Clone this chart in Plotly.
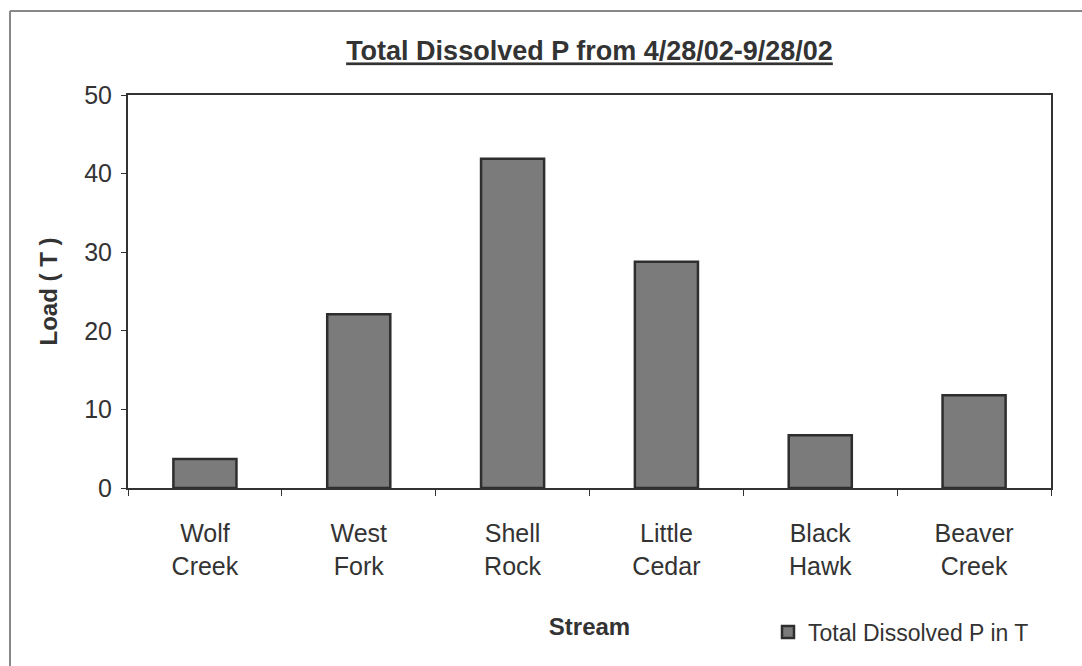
import plotly.graph_objects as go

streams = ["Wolf<br>Creek", "West<br>Fork", "Shell<br>Rock", "Little<br>Cedar", "Black<br>Hawk", "Beaver<br>Creek"]
load_t = [3.7, 22.1, 41.9, 28.8, 6.7, 11.8]
y_ticks = [0, 10, 20, 30, 40, 50]

FONT = "Liberation Sans, Arial, sans-serif"
INK = "#333333"

fig = go.Figure()
fig.add_trace(go.Bar(
    x=streams, y=load_t, name="Total Dissolved P in T",
    marker=dict(color="#7b7b7b", line=dict(color="#2e2e2e", width=2.5)),
))

fig.update_layout(
    width=1082, height=666,
    margin=dict(l=128, r=31, t=95, b=178),
    paper_bgcolor="white", plot_bgcolor="white",
    font=dict(family=FONT, color=INK, size=22),
    bargap=0.59,
    title=dict(text="<b><u>Total Dissolved P from 4/28/02-9/28/02</u></b>",
               x=541 / 1082, xanchor="center",
               xref="paper", y=1 - 51 / 666, yanchor="middle",
               font=dict(size=27, color=INK)),
    showlegend=True,
    legend=dict(orientation="h", x=(768 - 128) / 923, xanchor="left",
                y=(488 - 632) / 393, yanchor="middle",
                font=dict(size=23, color=INK), bgcolor="rgba(0,0,0,0)",
                itemwidth=30),
    xaxis=dict(
        showline=True, linecolor=INK, linewidth=2, mirror=True,
        ticks="outside", tickson="boundaries", ticklen=6, tickcolor=INK,
        tickfont=dict(size=25, color=INK), ticklabelstandoff=22,
        title=dict(text="<b>Stream</b>", font=dict(size=24, color=INK), standoff=40),
        showgrid=False,
    ),
    yaxis=dict(
        range=[0, 50], tickvals=y_ticks,
        showline=True, linecolor=INK, linewidth=2, mirror=True,
        ticks="outside", ticklen=5, tickcolor=INK,
        tickfont=dict(size=25, color=INK), ticklabelstandoff=4,
        title=dict(text="<b>Load ( T )</b>", font=dict(size=24, color=INK), standoff=20),
        showgrid=False, zeroline=False,
    ),
    shapes=[
        dict(type="line", xref="paper", yref="paper",
             x0=-118 / 923, x1=1.05, y0=1 + 84 / 393, y1=1 + 84 / 393,
             line=dict(color="#888888", width=2)),
        dict(type="line", xref="paper", yref="paper",
             x0=-118 / 923, x1=-118 / 923, y0=1 + 84 / 393, y1=-0.5,
             line=dict(color="#888888", width=2)),
    ],
)

fig.write_html("out.html")
